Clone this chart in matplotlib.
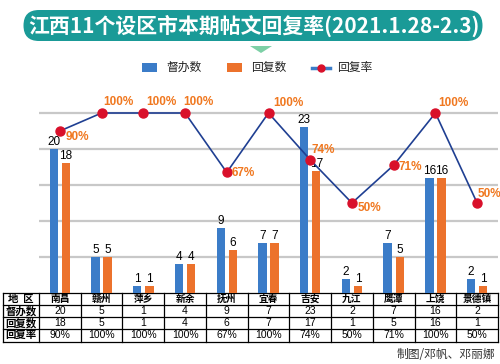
import numpy as np
import matplotlib.pyplot as plt
from matplotlib.patches import FancyBboxPatch, Polygon, Rectangle

plt.rcParams['font.family'] = ['Noto Sans CJK SC', 'DejaVu Sans']

# data
regions = ['南昌', '赣州', '萍乡', '新余', '抚州', '宜春', '吉安', '九江', '鹰潭', '上饶', '景德镇']
supervised = [20, 5, 1, 4, 9, 7, 23, 2, 7, 16, 2]
replied = [18, 5, 1, 4, 6, 7, 17, 1, 5, 16, 1]
rate = [90, 100, 100, 100, 67, 100, 74, 50, 71, 100, 50]
row_labels = ['地  区', '督办数', '回复数', '回复率']
series_names = ['督办数', '回复数', '回复率']
title = '江西11个设区市本期帖文回复率(2021.1.28-2.3)'
credit = '制图/邓帆、邓丽娜'

BLUE = '#3b7cc8'
ORANGE = '#ec722c'
RED = '#d9102a'
NAVY = '#1f3f92'
PCT = '#f07820'
TEAL = '#1a9a97'
NUM_FONT = ['Liberation Sans', 'DejaVu Sans']

W, H = 500, 364
fig = plt.figure(figsize=(5, 3.64), dpi=100)

# background layer in pixel coords
bg = fig.add_axes([0, 0, 1, 1])
bg.set_xlim(0, W)
bg.set_ylim(H, 0)
bg.axis('off')

# title banner
bg.add_patch(FancyBboxPatch((8 + 15.5, 10), 490 - 31, 31,
                            boxstyle='round,pad=0,rounding_size=15.5',
                            fc=TEAL, ec='none', mutation_aspect=1))
bg.text(254, 26, title, color='white', fontsize=15, fontweight='bold',
        ha='center', va='center')
bg.add_patch(Polygon([(250, 46), (272, 46), (261, 53)], closed=True,
                     fc='#7dd0a6', ec='none'))

# legend
bg.add_patch(Rectangle((142, 63), 15, 9, fc=BLUE, ec='none'))
bg.text(166, 67.5, series_names[0], fontsize=8.5, va='center', color='#222222')
bg.add_patch(Rectangle((227, 63), 15, 9, fc=ORANGE, ec='none'))
bg.text(251, 67.5, series_names[1], fontsize=8.5, va='center', color='#222222')
bg.plot([312, 330], [67.5, 67.5], color=BLUE, lw=2.5)
bg.plot([321], [67.5], 'o', color=RED, ms=5)
bg.text(337, 67.5, series_names[2], fontsize=8.5, va='center', color='#222222')

# chart
base_px, top_px = 293, 80
px_per_unit = 7.2
ax = fig.add_axes([39 / W, (H - base_px) / H, 459 / W, (base_px - top_px) / H])
ax.patch.set_alpha(0)
x = np.arange(len(regions))
ax.bar(x - 0.145, supervised, 0.2, color=BLUE, zorder=2)
ax.bar(x + 0.145, replied, 0.2, color=ORANGE, zorder=2)
ax.set_xlim(-0.5, len(regions) - 0.5)
ax.set_ylim(0, (base_px - top_px) / px_per_unit)
ax.set_yticks([5, 10, 15, 20, 25])
ax.yaxis.grid(True, color='#c8c8c8', lw=1.6)
ax.set_axisbelow(True)
ax.tick_params(left=False, bottom=False, labelleft=False, labelbottom=False)
for s in ax.spines.values():
    s.set_visible(False)

for xi, v in zip(x, supervised):
    ax.annotate(str(v), (xi - 0.145, v), xytext=(0, 1), textcoords='offset pixels',
                ha='center', va='bottom', fontsize=8.5, family=NUM_FONT)
for xi, v in zip(x, replied):
    ax.annotate(str(v), (xi + 0.145, v), xytext=(0, 1), textcoords='offset pixels',
                ha='center', va='bottom', fontsize=8.5, family=NUM_FONT)

rate_y = np.array(rate) / 4
ax.plot(x, rate_y, color=NAVY, lw=1.2, marker='o', ms=6.5, mfc=RED, mec=RED, zorder=5)
pct_offsets = [(6, -6), (2, 11), (3, 11), (-2, 11), (5, -1), (5, 10),
               (1, 10), (6, -5), (5, -2), (3, 10), (0, 9)]
for xi, yi, r, (dx, dy) in zip(x, rate_y, rate, pct_offsets):
    ax.annotate(f'{r}%', (xi, yi), xytext=(dx, dy), textcoords='offset pixels',
                ha='left', va='center', fontsize=8.5, fontweight='bold', color=PCT,
                family=NUM_FONT, zorder=6)

# table
col_edges = [3, 39] + [39 + 459 * (i + 1) / len(regions) for i in range(len(regions))]
row_edges = [293, 305, 317, 329, 342]
for xe in col_edges:
    bg.plot([xe, xe], [row_edges[0], row_edges[-1]], color='black', lw=0.9)
for ye in row_edges:
    bg.plot([col_edges[0], col_edges[-1]], [ye, ye], color='black', lw=0.9)

rows = [regions, [str(v) for v in supervised], [str(v) for v in replied],
        [f'{v}%' for v in rate]]
for ri, (lab, vals) in enumerate(zip(row_labels, rows)):
    yc = (row_edges[ri] + row_edges[ri + 1]) / 2
    bg.text((col_edges[0] + col_edges[1]) / 2, yc, lab, ha='center', va='center',
            fontsize=7.5, fontweight='bold')
    for ci, val in enumerate(vals):
        xc = (col_edges[ci + 1] + col_edges[ci + 2]) / 2
        if ri == 0:
            bg.text(xc, yc, val, ha='center', va='center', fontsize=7, fontweight='bold')
        else:
            bg.text(xc, yc, val, ha='center', va='center', fontsize=7.5, family=NUM_FONT)

bg.text(495, 355, credit, ha='right', va='center', fontsize=8.5, color='#333333')

fig.savefig('out.png', dpi=100)
